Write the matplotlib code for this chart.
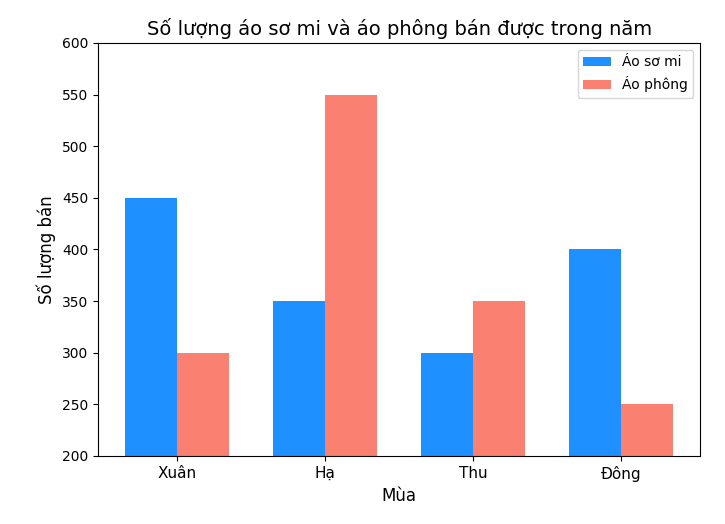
import matplotlib
matplotlib.use("Agg")
import matplotlib.pyplot as plt
import numpy as np

seasons = ["Xuân", "Hạ", "Thu", "Đông"]
shirts = [450, 350, 300, 400]
tshirts = [300, 550, 350, 250]

fig = plt.figure(figsize=(7.25, 5.24), dpi=100)
ax = fig.add_axes([0.135, 0.13, 0.831, 0.788])
x = np.arange(len(seasons))
w = 0.35
ax.bar(x - w/2, shirts, w, color="dodgerblue", label="Áo sơ mi")
ax.bar(x + w/2, tshirts, w, color="salmon", label="Áo phông")
ax.set_ylim(200, 600)
ax.set_xticks(x)
ax.set_xticklabels(seasons, fontsize=11)
ax.set_xlabel("Mùa", fontsize=12)
ax.set_ylabel("Số lượng bán", fontsize=12)
ax.set_title("Số lượng áo sơ mi và áo phông bán được trong năm", fontsize=14)
ax.legend(loc="upper right")
fig.savefig("out.png", dpi=100)
